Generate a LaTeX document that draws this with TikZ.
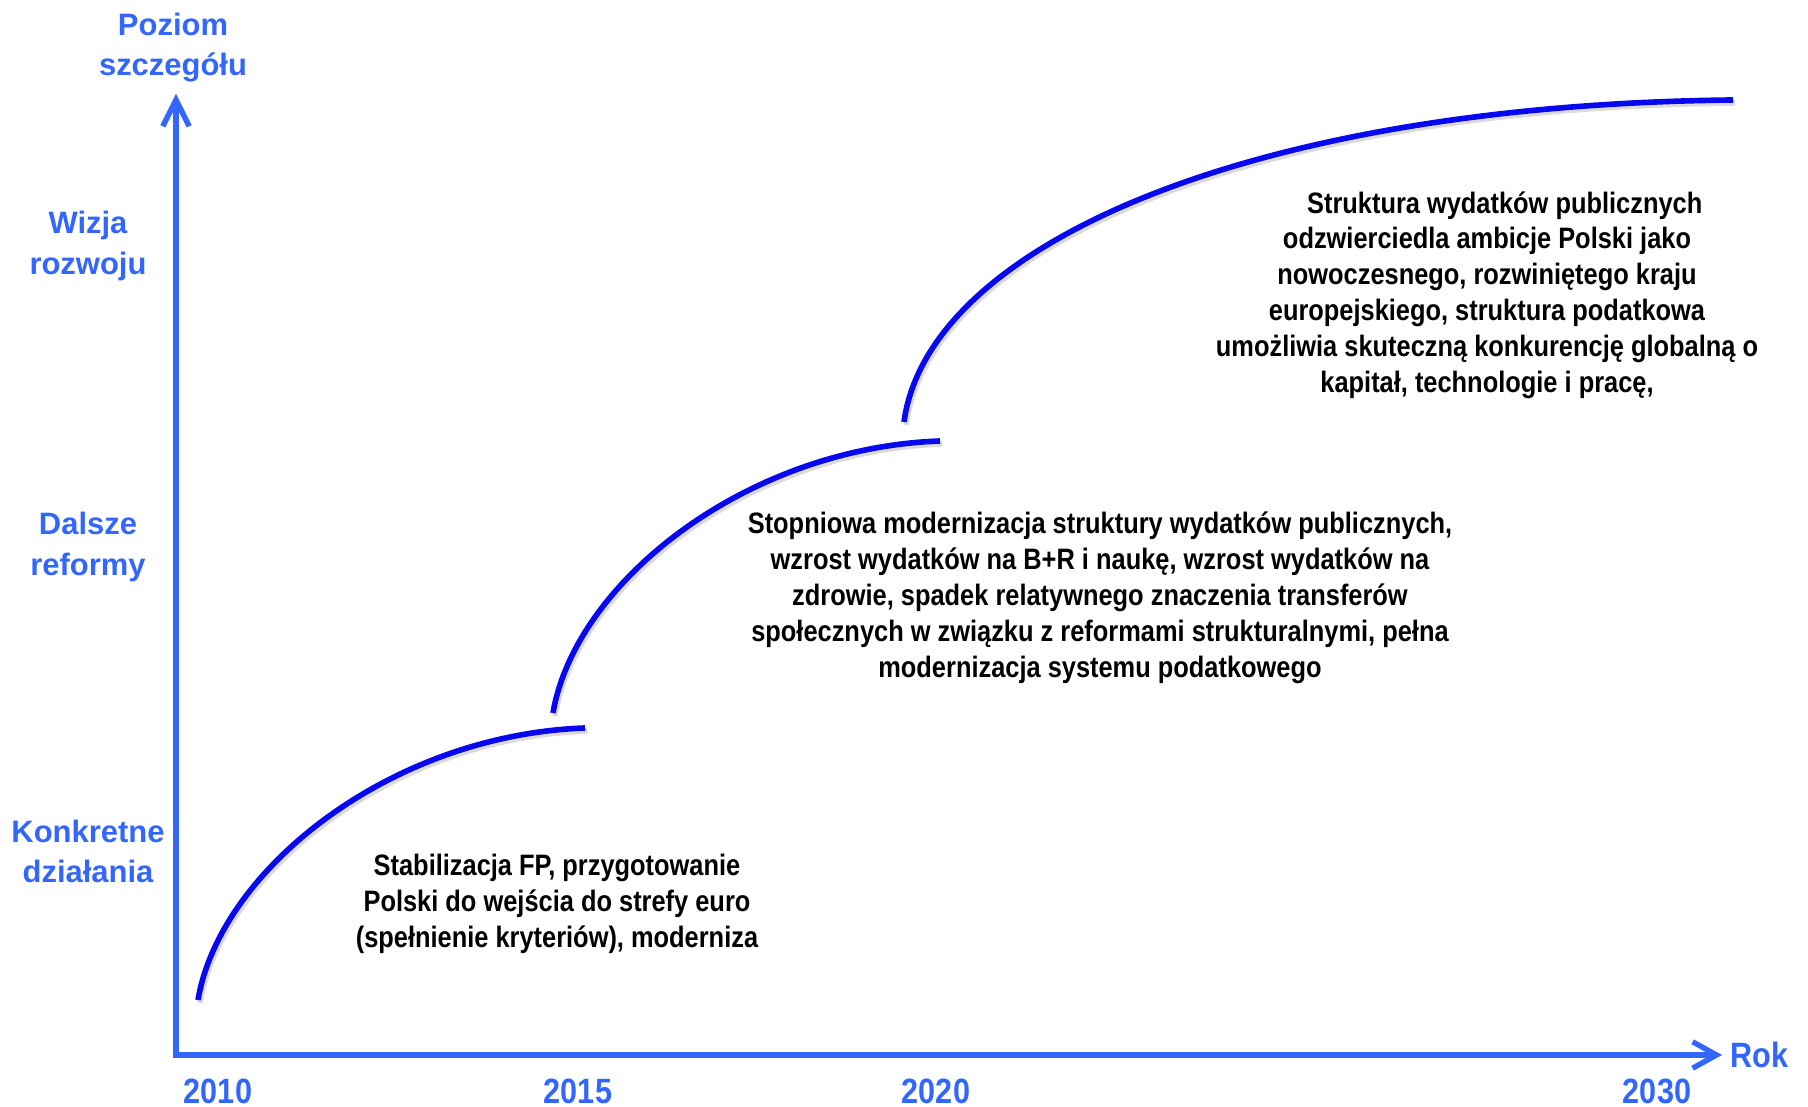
\documentclass[tikz,border=0pt]{standalone}
\usepackage{fontspec}
\setmainfont{Liberation Sans}
\newfontfamily\narrowfont{Liberation Sans}[FakeStretch=0.86]
\newfontfamily\yearfont{Liberation Sans}[FakeStretch=0.87]
\usepackage{xcolor}
\usepackage{tikz}
\usetikzlibrary{arrows.meta}

\definecolor{axisblue}{RGB}{51,102,255}
\definecolor{curveblue}{RGB}{8,8,240}

\begin{document}
\begin{tikzpicture}[x=0.01cm, y=-0.01cm, every node/.style={inner sep=0pt},
  axtips/.style={{Straight Barb[length=7.5pt, width=7.5pt, line width=1.5pt]}-{Straight Barb[length=6.8pt, width=7.5pt, line width=1.5pt]}},
  axis/.style={axisblue, line width=1.5pt, line join=miter, axtips},
  axshadow/.style={black!22, line width=1.5pt, line join=miter, axtips, shift={(3,4)}},
  stage/.style={curveblue, line width=1.6pt},
  stshadow/.style={black!14, line width=1.6pt, shift={(2,3)}},
  lvl/.style={text=axisblue, font=\bfseries\fontsize{8.8}{11.4}\selectfont, align=center},
  yr/.style={text=axisblue, font=\yearfont\bfseries\fontsize{10}{12}\selectfont},
  desc/.style={font=\narrowfont\bfseries\fontsize{8.4}{10.2}\selectfont, align=center}]

  \useasboundingbox (0,0) rectangle (1808,1107);

  % axes
  \coordinate (ytip) at (176,94);
  \coordinate (origin) at (176,1055);
  \coordinate (xtip) at (1722,1055);
  \draw[axshadow] (ytip) -- (origin) -- (xtip);
  \draw[axis] (ytip) -- (origin) -- (xtip);

  % stages
  \draw[stshadow] (198,1000) .. controls (220,870) and (390,735) .. (585,728);
  \draw[stshadow] (553,713) .. controls (575,583) and (745,448) .. (940,441);
  \draw[stshadow] (904,422) .. controls (928,245) and (1250,105) .. (1733,100);
  \draw[stage] (198,1000) .. controls (220,870) and (390,735) .. (585,728);
  \draw[stage] (553,713) .. controls (575,583) and (745,448) .. (940,441);
  \draw[stage] (904,422) .. controls (928,245) and (1250,105) .. (1733,100);

  % axis labels
  \node[lvl] (poziom) at (173,48) {Poziom\\szczegółu};
  \node[lvl] (wizja) at (88,246) {Wizja\\rozwoju};
  \node[lvl] (dalsze) at (88,547) {Dalsze\\reformy};
  \node[lvl] (konkret) at (88,851) {Konkretne\\działania};
  \node[yr, anchor=west] (rok) at (1730,1055) {Rok};
  \node[yr] (y2010) at (218,1091) {2010};
  \node[yr] (y2015) at (578,1091) {2015};
  \node[yr] (y2020) at (936,1091) {2020};
  \node[yr] (y2030) at (1657,1091) {2030};

  % descriptions
  \node[desc] (stab) at (557,904)
    {Stabilizacja FP, przygotowanie\\Polski do wejścia do strefy euro\\(spełnienie kryteriów), moderniza};
  \node[desc] (modern) at (1100,598)
    {Stopniowa modernizacja struktury wydatków publicznych,\\wzrost wydatków na B+R i naukę, wzrost wydatków na\\zdrowie, spadek relatywnego znaczenia transferów\\społecznych w związku z reformami strukturalnymi, pełna\\modernizacja systemu podatkowego};
  \node[desc] (wizjatxt) at (1487,295)
    {\hspace*{1.2em}Struktura wydatków publicznych\\odzwierciedla ambicje Polski jako\\nowoczesnego, rozwiniętego kraju\\europejskiego, struktura podatkowa\\umożliwia skuteczną konkurencję globalną o\\kapitał, technologie i pracę,};
\end{tikzpicture}
\end{document}
